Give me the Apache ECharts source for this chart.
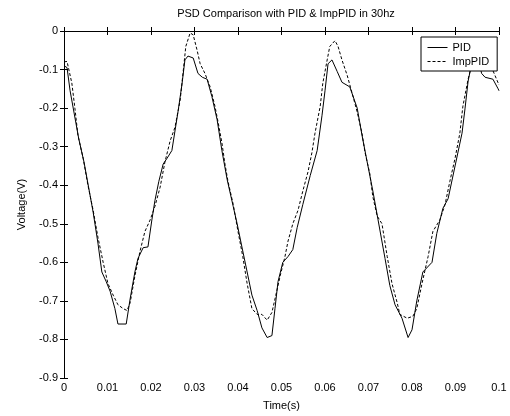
<!DOCTYPE html>
<html>
<head>
<meta charset="utf-8">
<script src="https://cdn.jsdelivr.net/npm/echarts@6/dist/echarts.min.js"></script>
<style>html,body{margin:0;padding:0;background:#fff;}#c{width:510px;height:416px;}</style>
</head>
<body>
<div id="c"></div>
<script>
var titleText = 'PSD Comparison with PID & ImpPID in 30hz';
var seriesNames = ['PID', 'ImpPID'];
var xTickLabels = ['0','0.01','0.02','0.03','0.04','0.05','0.06','0.07','0.08','0.09','0.1'];
var yTickLabels = ['-0.9','-0.8','-0.7','-0.6','-0.5','-0.4','-0.3','-0.2','-0.1','0'];

var pidData = [[0,-0.09],[0.0007,-0.095],[0.0014,-0.155],[0.0034,-0.28],[0.0046,-0.34],[0.0067,-0.47],[0.0078,-0.55],[0.0087,-0.625],[0.0097,-0.65],[0.0106,-0.675],[0.0117,-0.72],[0.0124,-0.76],[0.0143,-0.76],[0.0152,-0.695],[0.0163,-0.625],[0.017,-0.59],[0.0182,-0.562],[0.0193,-0.56],[0.0202,-0.49],[0.0209,-0.44],[0.0218,-0.39],[0.0228,-0.345],[0.0237,-0.33],[0.0248,-0.31],[0.0262,-0.21],[0.0271,-0.14],[0.0278,-0.075],[0.0285,-0.065],[0.0297,-0.07],[0.0308,-0.11],[0.0318,-0.12],[0.0329,-0.125],[0.034,-0.17],[0.0352,-0.23],[0.0363,-0.31],[0.0375,-0.385],[0.0389,-0.455],[0.0398,-0.5],[0.0409,-0.56],[0.0421,-0.625],[0.0432,-0.685],[0.0444,-0.725],[0.0455,-0.77],[0.0467,-0.795],[0.0478,-0.79],[0.0485,-0.72],[0.0492,-0.65],[0.0503,-0.6],[0.0515,-0.585],[0.0526,-0.567],[0.0536,-0.51],[0.0549,-0.45],[0.0566,-0.375],[0.0582,-0.31],[0.0593,-0.22],[0.06,-0.155],[0.0607,-0.085],[0.0616,-0.075],[0.0628,-0.105],[0.0639,-0.133],[0.0657,-0.145],[0.0674,-0.2],[0.0685,-0.27],[0.0697,-0.34],[0.071,-0.415],[0.0722,-0.49],[0.0738,-0.59],[0.0749,-0.66],[0.0761,-0.71],[0.0777,-0.745],[0.0791,-0.795],[0.08,-0.775],[0.0811,-0.7],[0.0825,-0.625],[0.0846,-0.6],[0.0857,-0.525],[0.0871,-0.46],[0.0883,-0.435],[0.0899,-0.35],[0.0915,-0.265],[0.0922,-0.2],[0.0929,-0.13],[0.0938,-0.08],[0.0952,-0.07],[0.096,-0.11],[0.0968,-0.12],[0.0986,-0.125],[0.0998,-0.15],[0.1,-0.155]];

var impPidData = [[0,-0.08],[0.0007,-0.079],[0.0018,-0.135],[0.0025,-0.2],[0.0032,-0.27],[0.0044,-0.33],[0.0055,-0.4],[0.0067,-0.465],[0.0078,-0.535],[0.009,-0.6],[0.0101,-0.655],[0.0113,-0.685],[0.0124,-0.71],[0.0136,-0.72],[0.0145,-0.725],[0.0152,-0.705],[0.0163,-0.635],[0.0175,-0.57],[0.0186,-0.52],[0.0198,-0.49],[0.0209,-0.455],[0.0221,-0.405],[0.0232,-0.34],[0.0244,-0.285],[0.0255,-0.25],[0.0267,-0.18],[0.0274,-0.105],[0.028,-0.04],[0.029,-0.005],[0.0297,-0.01],[0.0306,-0.05],[0.0313,-0.085],[0.0324,-0.11],[0.0336,-0.145],[0.0347,-0.195],[0.0354,-0.235],[0.0363,-0.29],[0.037,-0.345],[0.0377,-0.39],[0.0389,-0.45],[0.04,-0.52],[0.0411,-0.585],[0.0421,-0.655],[0.0432,-0.72],[0.0444,-0.735],[0.0455,-0.735],[0.0467,-0.75],[0.0478,-0.73],[0.0485,-0.695],[0.0497,-0.635],[0.0508,-0.585],[0.0515,-0.545],[0.0526,-0.5],[0.0538,-0.465],[0.0549,-0.415],[0.0561,-0.365],[0.057,-0.315],[0.0577,-0.265],[0.0589,-0.195],[0.0595,-0.135],[0.0605,-0.075],[0.0611,-0.04],[0.0623,-0.025],[0.063,-0.04],[0.0639,-0.075],[0.0651,-0.115],[0.0662,-0.16],[0.0674,-0.21],[0.0685,-0.265],[0.0692,-0.315],[0.0703,-0.37],[0.071,-0.43],[0.072,-0.48],[0.0731,-0.5],[0.0743,-0.585],[0.0754,-0.655],[0.0766,-0.705],[0.0772,-0.735],[0.0789,-0.745],[0.0802,-0.74],[0.0811,-0.72],[0.0823,-0.655],[0.0837,-0.585],[0.0848,-0.52],[0.0864,-0.49],[0.0876,-0.45],[0.0887,-0.39],[0.0899,-0.33],[0.091,-0.265],[0.0917,-0.195],[0.0929,-0.125],[0.0938,-0.085],[0.0952,-0.04],[0.0961,-0.03],[0.097,-0.05],[0.0985,-0.1],[0.1,-0.14]];

var FONT = 'Liberation Sans';
var chart = echarts.init(document.getElementById('c'), null, {renderer: 'canvas'});

function xFmt(v) { var i = Math.round(v * 100); return xTickLabels[i] !== undefined ? xTickLabels[i] : ''; }
function yFmt(v) { var i = Math.round(v * 10) + 9; return yTickLabels[i] !== undefined ? yTickLabels[i] : ''; }

var axisLineStyle = {show: true, lineStyle: {color: '#000', width: 1}};
var tickStyle = {show: true, inside: true, length: 4, lineStyle: {color: '#000', width: 1}};

chart.setOption({
  animation: false,
  backgroundColor: '#fff',
  title: {
    text: titleText, left: 281, top: 3, textAlign: 'center',
    textStyle: {fontFamily: FONT, fontSize: 11, fontWeight: 'normal', color: '#000'}
  },
  legend: {
    data: seriesNames, orient: 'vertical', left: 421, top: 37,
    itemWidth: 20, itemHeight: 10, itemGap: 3,
    padding: [5, 8, 4, 6],
    backgroundColor: '#fff', borderColor: '#000', borderWidth: 1, borderRadius: 0,
    itemStyle: {opacity: 0},
    lineStyle: {width: 1},
    textStyle: {fontFamily: FONT, fontSize: 11, color: '#000'}
  },
  grid: {left: 64, right: 11, top: 31, bottom: 29, containLabel: false},
  xAxis: [{
    type: 'value', min: 0, max: 0.1, interval: 0.01,
    name: 'Time(s)', nameLocation: 'middle', nameGap: 22,
    nameTextStyle: {fontFamily: FONT, fontSize: 11, color: '#000'},
    axisLine: axisLineStyle, axisTick: tickStyle, splitLine: {show: false},
    axisLabel: {formatter: xFmt, fontFamily: FONT, fontSize: 11, color: '#000', margin: 4}
  }, {
    type: 'value', min: 0, max: 0.1, interval: 0.01, position: 'top',
    axisLine: axisLineStyle, axisTick: tickStyle, splitLine: {show: false}, axisLabel: {show: false}
  }],
  yAxis: [{
    type: 'value', min: -0.9, max: 0, interval: 0.1,
    name: 'Voltage(V)', nameLocation: 'middle', nameGap: 37, nameRotate: 90,
    nameTextStyle: {fontFamily: FONT, fontSize: 11, color: '#000'},
    axisLine: axisLineStyle, axisTick: tickStyle, splitLine: {show: false},
    axisLabel: {formatter: yFmt, fontFamily: FONT, fontSize: 11, color: '#000', margin: 6}
  }, {
    type: 'value', min: -0.9, max: 0, interval: 0.1, position: 'right',
    axisLine: axisLineStyle, axisTick: tickStyle, splitLine: {show: false}, axisLabel: {show: false}
  }],
  series: [{
    name: seriesNames[0], type: 'line', data: pidData, xAxisIndex: 0, yAxisIndex: 0,
    symbol: 'none', showSymbol: false, smooth: false, z: 3,
    lineStyle: {color: '#000', width: 1, type: 'solid'},
    itemStyle: {color: '#000'}
  }, {
    name: seriesNames[1], type: 'line', data: impPidData, xAxisIndex: 0, yAxisIndex: 0,
    symbol: 'none', showSymbol: false, smooth: false, z: 2,
    lineStyle: {color: '#000', width: 1, type: [3, 2]},
    itemStyle: {color: '#000'}
  }]
});
</script>
</body>
</html>
